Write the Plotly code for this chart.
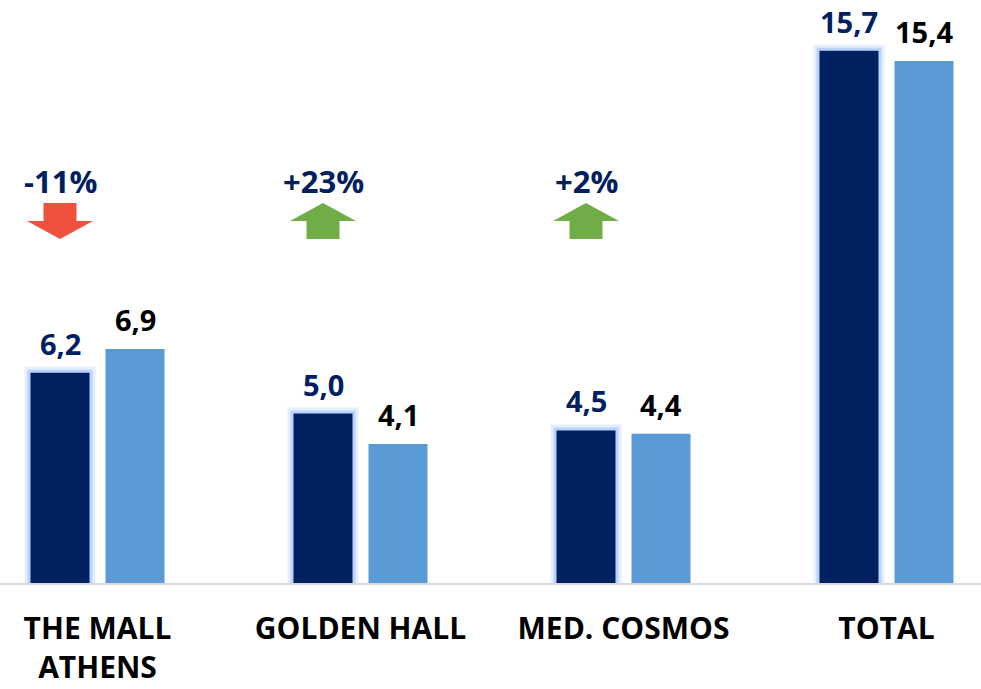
import plotly.graph_objects as go

# ---- data ----
categories = ["THE MALL<br>ATHENS", "GOLDEN HALL", "MED. COSMOS", "TOTAL"]
series_current = [6.2, 5.0, 4.5, 15.7]   # dark navy bars
series_previous = [6.9, 4.1, 4.4, 15.4]  # light blue bars
change_labels = ["-11%", "+23%", "+2%"]
change_dirs = ["down", "up", "up"]

# ---- styles ----
NAVY = "#002060"
LIGHT = "#5B9BD5"
RED = "#F0513F"
GREEN = "#70AD47"
FONT = "Open Sans"

PX_X = 263.0   # px per category unit
PX_Y = 33.9    # px per value unit
off = 37.5 / PX_X
bw = 59 / PX_X

xs = list(range(len(categories)))

def fmt(v):
    return f"{v:.1f}".replace(".", ",")

fig = go.Figure()

# glow behind dark bars (two soft layers)
for extra, alpha in [(12, 0.18), (6, 0.35)]:
    fig.add_trace(go.Bar(
        x=xs, y=[v + extra / 2 / PX_Y for v in series_current], base=[0] * len(xs),
        offset=-off - (bw + extra / PX_X) / 2, width=bw + extra / PX_X,
        marker=dict(color=f"rgba(110,160,245,{alpha})", line=dict(width=0)),
        hoverinfo="skip", showlegend=False))

fig.add_trace(go.Bar(
    x=xs, y=series_current, offset=-off - bw / 2, width=bw,
    marker=dict(color=NAVY, line=dict(width=0)), showlegend=False))

fig.add_trace(go.Bar(
    x=xs, y=series_previous, offset=off - bw / 2, width=bw,
    marker=dict(color=LIGHT, line=dict(width=0)), showlegend=False))

annotations = []
for i, v in enumerate(series_current):
    annotations.append(dict(x=i - off, y=v, xref="x", yref="y", text=f"<b>{fmt(v)}</b>",
                            showarrow=False, yanchor="bottom", yshift=8,
                            font=dict(family=FONT, size=29, color=NAVY)))
for i, v in enumerate(series_previous):
    annotations.append(dict(x=i + off, y=v, xref="x", yref="y", text=f"<b>{fmt(v)}</b>",
                            showarrow=False, yanchor="bottom", yshift=8,
                            font=dict(family=FONT, size=29, color="black")))

# change arrows & labels
label_y = (583 - 181) / PX_Y
arrow_y = (583 - 221) / PX_Y
aw = 66 / PX_X
sw = 33 / PX_X
ah = 36 / PX_Y
hh = 18 / PX_Y
shapes = []
for i, (lab, d) in enumerate(zip(change_labels, change_dirs)):
    cx = i - off
    annotations.append(dict(x=cx, y=label_y, xref="x", yref="y", text=f"<b>{lab}</b>",
                            showarrow=False, yanchor="middle",
                            font=dict(family=FONT, size=31, color=NAVY)))
    top = arrow_y + ah / 2
    bot = arrow_y - ah / 2
    if d == "down":
        mid = bot + hh
        path = (f"M {cx-sw/2} {top} L {cx+sw/2} {top} L {cx+sw/2} {mid} L {cx+aw/2} {mid} "
                f"L {cx} {bot} L {cx-aw/2} {mid} L {cx-sw/2} {mid} Z")
        col = RED
    else:
        mid = top - hh
        path = (f"M {cx-sw/2} {bot} L {cx+sw/2} {bot} L {cx+sw/2} {mid} L {cx+aw/2} {mid} "
                f"L {cx} {top} L {cx-aw/2} {mid} L {cx-sw/2} {mid} Z")
        col = GREEN
    shapes.append(dict(type="path", path=path, xref="x", yref="y",
                       fillcolor=col, line=dict(width=0), layer="above"))

x_left = -97.5 / PX_X
x_right = (981 - 97.5) / PX_X

fig.update_layout(
    width=981, height=689,
    margin=dict(l=0, r=0, t=0, b=106, autoexpand=False),
    plot_bgcolor="white", paper_bgcolor="white",
    barmode="overlay",
    annotations=annotations, shapes=shapes,
    xaxis=dict(range=[x_left, x_right], tickvals=xs, ticktext=[f"<b>{c}</b>" for c in categories],
               tickfont=dict(family=FONT, size=30, color="black"), automargin=False,
               showline=True, linecolor="#D9D9D9", linewidth=2, showgrid=False, zeroline=False,
               ticks="outside", ticklen=18, tickcolor="rgba(0,0,0,0)"),
    yaxis=dict(range=[0, 583 / PX_Y], visible=False, showgrid=False, zeroline=False,
               automargin=False),
)

fig.write_html("out.html")
